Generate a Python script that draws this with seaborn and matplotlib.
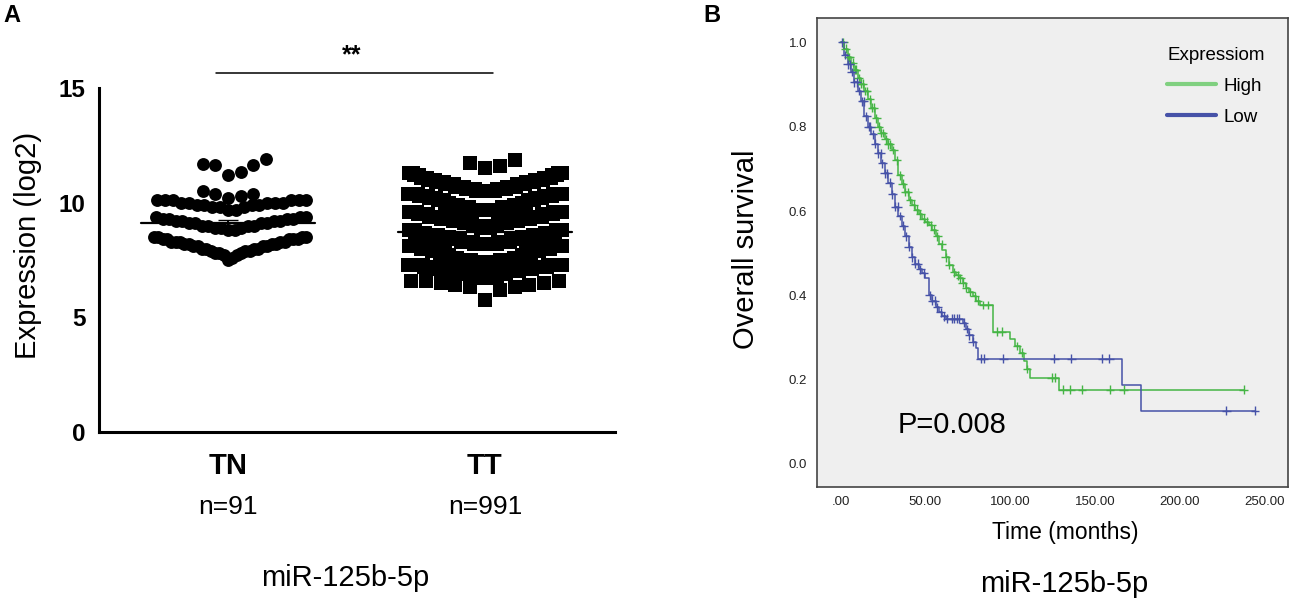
import numpy as np
import pandas as pd
import matplotlib
matplotlib.use("Agg")
import matplotlib.pyplot as plt
import matplotlib.transforms as mtransforms
from matplotlib.lines import Line2D
import seaborn as sns

# ---------------------------------------------------------------
# Panel A: miR-125b-5p expression (log2), values read as level/count
# ---------------------------------------------------------------
groups = ["TN", "TT"]

tn_levels = [7.5, 7.6, 7.7, 7.8, 7.9, 8.0, 8.1, 8.2, 8.3, 8.4, 8.5,
             8.8, 8.9, 9.0, 9.1, 9.2, 9.3, 9.4,
             9.7, 9.8, 9.9, 10.0, 10.1,
             10.2, 10.3, 10.4, 10.5,
             11.2, 11.35, 11.65, 11.7, 11.9]
tn_counts = [1, 1, 2, 3, 3, 4, 4, 4, 5, 5, 4,
             2, 3, 4, 4, 4, 4, 3,
             2, 3, 4, 5, 6,
             1, 1, 2, 1,
             1, 1, 2, 1, 1]

tt_levels = [5.75, 6.2, 6.3, 6.4, 6.5, 6.6,
             6.7, 6.8, 6.9, 7.0, 7.1, 7.2, 7.3, 7.4, 7.5, 7.6, 7.7,
             7.8, 7.9, 8.0, 8.1, 8.2, 8.3, 8.4, 8.5, 8.6, 8.7, 8.8,
             8.9, 9.0, 9.1, 9.2, 9.3, 9.4, 9.5, 9.6, 9.7, 9.8, 9.9,
             10.0, 10.1, 10.2, 10.3, 10.4, 10.5, 10.6, 10.7, 10.8, 10.9,
             11.0, 11.1, 11.2, 11.3,
             11.5, 11.6, 11.75, 11.85]
tt_counts = [1, 1, 2, 2, 2, 3,
             10, 15, 20, 25, 28, 30, 33, 32, 30, 18, 10,
             12, 18, 24, 28, 32, 34, 30, 28, 34, 28, 18,
             14, 20, 26, 30, 32, 32, 30, 26, 22, 16, 12,
             8, 10, 12, 14, 15, 16, 16, 16, 15, 14,
             13, 12, 10, 8,
             1, 1, 1, 1]

# ---------------------------------------------------------------
# Panel B: Kaplan-Meier overall survival by expression
# ---------------------------------------------------------------
high_t = [0, 2, 4, 6, 8, 10, 12, 14, 16, 18, 20, 22, 24, 26, 28, 30, 32, 34,
          36, 38, 40, 42, 44, 46, 48, 50, 52, 54, 56, 58, 60, 62, 64, 66, 68,
          70, 72, 74, 76, 78, 80, 82, 90, 100, 103, 106, 108, 110, 112, 129]
high_s = [1.0, 0.985, 0.965, 0.952, 0.935, 0.915, 0.902, 0.885, 0.865, 0.845,
          0.82, 0.80, 0.785, 0.77, 0.758, 0.745, 0.72, 0.685, 0.665, 0.645,
          0.626, 0.615, 0.603, 0.592, 0.582, 0.575, 0.566, 0.556, 0.54, 0.522,
          0.507, 0.49, 0.472, 0.455, 0.448, 0.44, 0.43, 0.418, 0.408, 0.398,
          0.387, 0.377, 0.314, 0.296, 0.28, 0.264, 0.244, 0.225, 0.205, 0.176]
high_cens = [1.5, 3, 4.5, 5, 7, 8.5, 9, 10.5, 12, 13, 14.5, 15.5, 17, 18.5,
             19.5, 21, 22.5, 24, 25, 26.5, 28, 29, 31, 33, 35, 36.5, 38, 39.5,
             41, 43, 45, 47, 49, 51, 53.5, 55, 57, 59.5, 62, 64, 67, 69, 70.5,
             72, 74, 76.5, 79, 81, 84, 87, 92, 95, 104, 107, 110, 124.5, 126.5,
             131, 135.5, 142.4, 159, 167, 237.8]

low_t = [0, 2, 4, 6, 8, 10, 12, 14, 16, 18, 20, 22, 24, 26, 28, 30, 32, 34,
         36, 38, 40, 42, 44, 46, 48, 50, 52, 54, 56, 58, 60, 62, 72, 74, 76,
         78, 80, 81, 166, 177]
low_s = [1.0, 0.97, 0.948, 0.93, 0.905, 0.885, 0.86, 0.825, 0.80, 0.782,
         0.76, 0.737, 0.713, 0.69, 0.667, 0.64, 0.61, 0.588, 0.565, 0.54,
         0.515, 0.49, 0.475, 0.462, 0.452, 0.44, 0.40, 0.387, 0.372, 0.36,
         0.35, 0.345, 0.335, 0.32, 0.305, 0.29, 0.274, 0.25, 0.188, 0.126]
low_cens = [1, 2.5, 4, 5.5, 6.5, 8, 9.5, 11, 12.5, 13.5, 15, 16.5, 17.5, 19,
            20.5, 22, 23.5, 24.5, 26, 27.5, 29, 30.5, 32, 33.5, 35, 37, 38.5,
            40, 42, 44, 45.5, 47, 49, 52.5, 54, 55.5, 57, 59, 61, 63, 65.5, 67,
            68.5, 70, 72.5, 74.5, 76, 78, 82.6, 84.4, 96, 126, 136, 154.5,
            158.5, 227.5, 244.5]

km_groups = ["High", "Low"]
p_label = "P=0.008"

# ---------------------------------------------------------------
sns.set_style("white")
plt.rcParams["font.family"] = ["Liberation Sans", "DejaVu Sans"]
plt.rcParams["text.color"] = "black"
plt.rcParams["axes.labelcolor"] = "black"
plt.rcParams["xtick.color"] = "black"
plt.rcParams["ytick.color"] = "black"

GREEN = "#45b545"
GREEN_LEG = "#80d080"
BLUE = "#4652a8"

fig = plt.figure(figsize=(12.92, 5.99), dpi=100)
W, H = 1292, 599


def px_axes(l, t, r, b):
    return [l / W, 1 - b / H, (r - l) / W, (b - t) / H]


def spread(values, edges, half_w, step):
    """GraphPad-like layout: rows by value bins, lowest value in the middle."""
    values = np.sort(values)
    x = np.zeros(len(values))
    row = np.digitize(values, edges)
    for r in np.unique(row):
        idx = np.where(row == r)[0]
        n = len(idx)
        kmax = int(np.ceil((n - 1) / 2)) if n > 1 else 1
        sp = step if kmax * step <= half_w else half_w / kmax
        for rank, i in enumerate(idx):
            k = (rank + 1) // 2
            x[i] = (1 if rank % 2 else -1) * k * sp
    return values, x


# ---------------- panel A ----------------
ax1 = fig.add_axes(px_axes(99, 88.3, 615, 431.7))

layout = {
    "TN": dict(levels=tn_levels, counts=tn_counts, marker="o", s=86,
               edges=[7.0, 8.65, 9.6, 10.15, 10.9, 12.5], half_w=0.305, step=0.049),
    "TT": dict(levels=tt_levels, counts=tt_counts, marker="s", s=100,
               edges=[5.5, 6.65, 7.4, 8.15, 8.9, 9.65, 10.45, 11.4, 12.5],
               half_w=0.30, step=0.0576),
}

frames = []
for i, g in enumerate(groups):
    cfg = layout[g]
    vals = np.repeat(cfg["levels"], cfg["counts"])
    vals, off = spread(vals, cfg["edges"], cfg["half_w"], cfg["step"])
    frames.append(pd.DataFrame({"group": g, "value": vals, "x": i + off}))
df_a = pd.concat(frames, ignore_index=True)

for i, g in enumerate(groups):
    sub = df_a[df_a["group"] == g]
    sns.scatterplot(data=sub, x="x", y="value", marker=layout[g]["marker"],
                    s=layout[g]["s"], color="black", linewidth=0, ax=ax1,
                    legend=False, zorder=3)
    m = sub["value"].mean()
    sem = sub["value"].std() / np.sqrt(len(sub))
    ax1.plot([i - 0.337, i + 0.337], [m, m], color="black", lw=1.6, zorder=4)
    ax1.errorbar(i, m, yerr=sem, color="black", lw=1.4, capsize=7, zorder=4)

ax1.set_xlim(-0.502, 1.506)
ax1.set_ylim(0, 15)
ax1.set_yticks([0, 5, 10, 15])
ax1.set_yticklabels(["0", "5", "10", "15"], fontsize=17.5, fontweight="bold")
ax1.set_xticks([0, 1])
ax1.set_xticklabels(groups, fontsize=21, fontweight="bold")
ax1.set_xlabel("")
ax1.set_ylabel("")
sns.despine(ax=ax1)
for sp in ["left", "bottom"]:
    ax1.spines[sp].set_linewidth(2.2)
    ax1.spines[sp].set_color("black")
ax1.tick_params(axis="both", width=2.2, length=6.5, color="black")
ax1.tick_params(axis="y", pad=3)
ax1.tick_params(axis="x", pad=8)

trans = mtransforms.blended_transform_factory(ax1.transData, ax1.transAxes)
for i, g in enumerate(groups):
    n = int((df_a["group"] == g).sum())
    ax1.text(i, -0.218, f"n={n}", transform=trans, ha="center", va="center",
             fontsize=19)

ax1.plot([-0.048, 1.032], [15.65, 15.65], color="black", lw=1.1, clip_on=False)
ax1.text(0.483, 16.45, "**", ha="center", va="center", fontsize=18,
         fontweight="bold")

fig.text(28 / W, 1 - 245 / H, "Expression (log2)", rotation=90, ha="center",
         va="center", fontsize=21)
fig.text(345 / W, 1 - 578 / H, "miR-125b-5p", ha="center", va="center",
         fontsize=21)
fig.text(3 / W, 1 - 4 / H, "A", ha="left", va="top", fontsize=17,
         fontweight="bold")

# ---------------- panel B ----------------
ax2 = fig.add_axes(px_axes(816.7, 18, 1288.3, 486.7))
ax2.set_facecolor("#efefef")

km_rows = []
cens_rows = []
for g, t, s, c in [("High", high_t, high_s, high_cens), ("Low", low_t, low_s, low_cens)]:
    t = list(t) + [max(c)]
    s = list(s) + [s[-1]]
    km_rows.append(pd.DataFrame({"group": g, "time": t, "surv": s}))
    idx = np.searchsorted(np.array(t), np.array(c), side="right") - 1
    cens_rows.append(pd.DataFrame({"group": g, "time": c, "surv": np.array(s)[idx]}))
km = pd.concat(km_rows, ignore_index=True)
cens = pd.concat(cens_rows, ignore_index=True)

palette = {"High": GREEN, "Low": BLUE}
sns.lineplot(data=km, x="time", y="surv", hue="group", hue_order=km_groups,
             palette=palette, estimator=None, drawstyle="steps-post", lw=1.1,
             legend=False, ax=ax2, zorder=3)
sns.scatterplot(data=cens, x="time", y="surv", hue="group", hue_order=km_groups,
                palette=palette, marker="+", s=40, linewidth=1.0, legend=False,
                ax=ax2, zorder=4)

ax2.set_xlim(-14.2, 264.2)
ax2.set_ylim(-0.054, 1.058)
ax2.set_xticks([0, 50, 100, 150, 200, 250])
ax2.set_xticklabels([".00", "50.00", "100.00", "150.00", "200.00", "250.00"],
                    fontsize=9.5, color="#222222")
ax2.set_yticks([0, 0.2, 0.4, 0.6, 0.8, 1.0])
ax2.set_yticklabels([f"{v:.1f}" for v in [0, 0.2, 0.4, 0.6, 0.8, 1.0]],
                    fontsize=9.5, color="#222222")
ax2.set_xlabel("")
ax2.set_ylabel("")
for sp in ax2.spines.values():
    sp.set_visible(True)
    sp.set_color("#444444")
    sp.set_linewidth(1.2)
ax2.tick_params(axis="both", length=4.8, width=1.0, color="#333333", pad=2)

ax2.text(66, 0.092, p_label, ha="center", va="center", fontsize=21)

handles = [Line2D([], [], color=GREEN_LEG, lw=3), Line2D([], [], color=BLUE, lw=3)]
ax2.legend(handles, km_groups, title="Expressiom", loc="upper left",
           bbox_to_anchor=(0.708, 0.975), frameon=False, fontsize=13.5,
           title_fontsize=13.5, handlelength=2.6, handletextpad=0.4,
           labelspacing=0.75, alignment="left")

fig.text(746.5 / W, 1 - 249 / H, "Overall survival", rotation=90, ha="center",
         va="center", fontsize=21)
fig.text(1065 / W, 1 - 533 / H, "Time (months)", ha="center", va="center",
         fontsize=16.5)
fig.text(1064 / W, 1 - 584 / H, "miR-125b-5p", ha="center", va="center",
         fontsize=21)
fig.text(703 / W, 1 - 4 / H, "B", ha="left", va="top", fontsize=17,
         fontweight="bold")

fig.savefig("out.png", dpi=100)
